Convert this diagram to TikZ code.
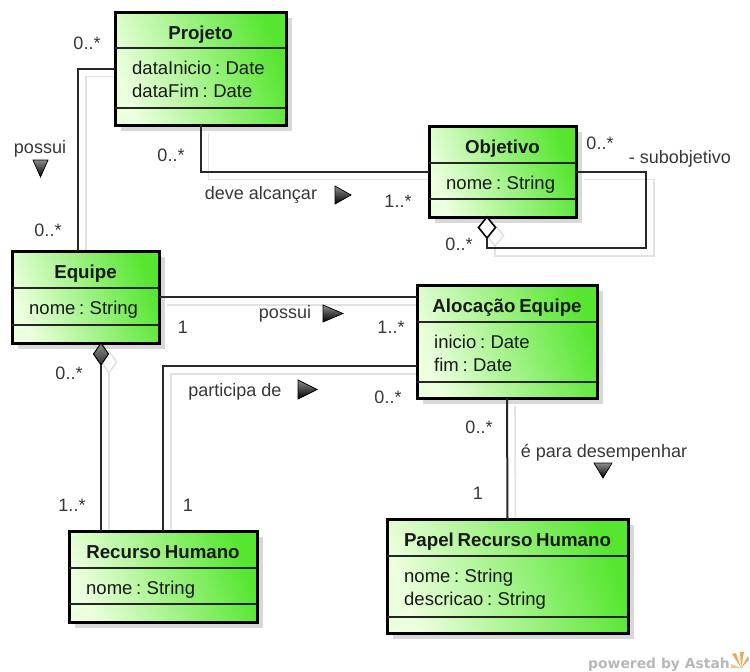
\documentclass[tikz,border=0pt]{standalone}
\usepackage{fontspec}
\setmainfont{Liberation Sans}
\newfontfamily\boxfont[WordSpace=0.72]{Liberation Sans}
\newfontfamily\markfont{DejaVu Sans}
\usetikzlibrary{shapes.geometric,calc,backgrounds}

\definecolor{boxlight}{RGB}{236,255,222}
\definecolor{boxgreen}{RGB}{86,230,48}
\definecolor{lineclr}{RGB}{40,40,40}
\definecolor{boxshadowclr}{RGB}{216,216,216}
\definecolor{lineshadow}{RGB}{226,226,226}
\definecolor{txtclr}{RGB}{25,25,25}
\definecolor{lblclr}{RGB}{55,55,55}
\definecolor{markclr}{RGB}{184,184,184}
\definecolor{iconclr}{RGB}{236,170,96}

\tikzset{
  x=1pt, y=-1pt,
  classbox/.style={draw=black, line width=3pt, inner sep=0pt, outer sep=0pt,
    left color=boxgreen, right color=boxlight, shading angle=290},
  divider/.style={draw=black!85, line width=1.5pt},
  titletext/.style={font=\boxfont\bfseries\fontsize{18.7}{22}\selectfont,
    text=txtclr, inner sep=0pt, anchor=base},
  attrtext/.style={font=\boxfont\fontsize{18.5}{22}\selectfont,
    text=txtclr, inner sep=0pt, anchor=base west},
  lbl/.style={font=\fontsize{18}{21}\selectfont, text=lblclr, inner sep=0pt, anchor=base},
  assoc/.style={draw=lineclr, line width=2pt},
  assocshadow/.style={draw=lineshadow, line width=1.6pt},
  dirmark/.style={draw=black, line width=0.7pt, line join=miter,
    top color=black!45, bottom color=black},
  filleddiamond/.style={diamond, draw=black, line width=1pt, inner sep=0pt, outer sep=0pt,
    minimum width=15pt, minimum height=22pt, top color=black!45, bottom color=black!80},
  hollowdiamond/.style={diamond, draw=black, line width=1.6pt, fill=white, inner sep=0pt,
    outer sep=0pt, minimum width=17pt, minimum height=21pt},
}

% #1 name, #2 north-west corner, #3 width, #4 height,
% #5 header depth, #6 attribute depth, #7 class name, #8 attribute list
\newcommand\umlclass[8]{%
  \node[classbox, minimum width=#3pt, minimum height=#4pt, anchor=north west] (#1) at (#2) {};
  \draw[divider] ([yshift=-#5pt]#1.north west) -- ([yshift=-#5pt]#1.north east);
  \draw[divider] ([yshift=-#6pt]#1.north west) -- ([yshift=-#6pt]#1.north east);
  \node[titletext] (#1-name) at ([yshift=-27pt]#1.north) {#7};
  \foreach \a [count=\i] in {#8} {
    \node[attrtext] (#1-attr\i) at ([xshift=17pt, yshift={-(#5+26+23*(\i-1))*1pt}]#1.north west) {\a};
  }%
}

\begin{document}
\begin{tikzpicture}
\useasboundingbox (0,0) rectangle (750,672);

% classes
\umlclass{proj}{115,12}{171}{113}{36}{96}{Projeto}{dataInicio : Date, dataFim : Date}
\umlclass{obj}{429,126}{147}{91}{37}{73}{Objetivo}{nome : String}
\umlclass{equipe}{12,251}{147}{92}{37}{74}{Equipe}{nome : String}
\umlclass{aloc}{417,285}{180}{113}{37}{97}{Alocação Equipe}{inicio : Date, fim : Date}
\umlclass{rec}{69,531}{188}{91}{37}{73}{Recurso Humano}{nome : String}
\umlclass{papel}{387,519}{241}{114}{37}{98}{Papel Recurso Humano}{nome : String, descricao : String}

% aggregation ends
\node[filleddiamond, anchor=north] (aggE) at ([xshift=15.5pt]equipe.south) {};
\node[hollowdiamond, anchor=north] (aggO) at ([xshift=-15.5pt]obj.south) {};
\coordinate (loopcorner) at (646,248);

% associations
\draw[assoc] (proj.west) -| ([xshift=-7.5pt]equipe.north);
\draw[assoc] (proj.south) |- (obj.west);
\draw[assoc] (obj.east) -| (loopcorner) -| (aggO.south);
\draw[assoc] (equipe.east) -- (equipe.east -| aloc.west);
\draw[assoc] ([yshift=-24.5pt]aloc.west) -| (rec.north);
\draw[assoc] (aggE.south) -- (aggE.south |- rec.north);
\draw[assoc] (aloc.south) -- (papel.north);

% drop shadows
\begin{pgfonlayer}{background}
  \fill[white] (0,0) rectangle (750,672);
  \foreach \b in {proj,obj,equipe,aloc,rec,papel} {
    \fill[boxshadowclr] ([shift={(6pt,-6pt)}]\b.north west) rectangle ([shift={(6pt,-6pt)}]\b.south east);
  }
  \begin{scope}[transform canvas={xshift=8pt,yshift=-8pt}]
    \draw[assocshadow] (proj.west) -| ([xshift=-7.5pt]equipe.north);
    \draw[assocshadow] (proj.south) |- (obj.west);
    \draw[assocshadow] (obj.east) -| (loopcorner) -| (aggO.south);
    \draw[assocshadow] (equipe.east) -- (equipe.east -| aloc.west);
    \draw[assocshadow] ([yshift=-24.5pt]aloc.west) -| (rec.north);
    \draw[assocshadow] (aggE.south) -- (aggE.south |- rec.north);
    \draw[assocshadow] (aloc.south) -- (papel.north);
    \draw[assocshadow] (aggE.north) -- (aggE.east) -- (aggE.south) -- (aggE.west) -- cycle;
    \draw[assocshadow] (aggO.north) -- (aggO.east) -- (aggO.south) -- (aggO.west) -- cycle;
  \end{scope}
\end{pgfonlayer}

% multiplicities and role names
\node[lbl] (m1) at (87,49) {0..*};
\node[lbl] (m2) at (48,236) {0..*};
\node[lbl] (m3) at (171,161) {0..*};
\node[lbl] (m4) at (398,207) {1..*};
\node[lbl] (m5) at (600,149) {0..*};
\node[lbl] (r1) at (680,163) {- subobjetivo};
\node[lbl] (m6) at (459,250) {0..*};
\node[lbl] (m7) at (183,333) {1};
\node[lbl] (m8) at (391,333) {1..*};
\node[lbl] (m9) at (388,403) {0..*};
\node[lbl] (m10) at (69,379) {0..*};
\node[lbl] (m11) at (72,511) {1..*};
\node[lbl] (m12) at (188,511) {1};
\node[lbl] (m13) at (479,433) {0..*};
\node[lbl] (m14) at (478,499) {1};

% association names with reading direction
\node[lbl] (n1) at (40,153) {possui};
\filldraw[dirmark] (33,160) -- (48,160) -- (40.5,177) -- cycle;
\node[lbl] (n2) at (261,199) {deve alcançar};
\filldraw[dirmark] (335,186) -- (351,195) -- (335,204) -- cycle;
\node[lbl] (n3) at (285,318) {possui};
\filldraw[dirmark] (323,305) -- (343,313.5) -- (323,322) -- cycle;
\node[lbl] (n4) at (235,396) {participa de};
\filldraw[dirmark] (298,380) -- (317,389.5) -- (298,399) -- cycle;
\node[lbl] (n5) at (604,457) {é para desempenhar};
\filldraw[dirmark] (594,463) -- (612,463) -- (603,478) -- cycle;

% footer
\node[font=\markfont\bfseries\fontsize{13.9}{16}\selectfont, text=markclr, inner sep=0pt, anchor=base]
  (mark) at (659,668) {powered by Astah};
\fill[iconclr] (741,668) -- (732,654) -- (736,653) -- cycle;
\fill[iconclr] (741,668) -- (740,652) -- (744,652) -- cycle;
\fill[iconclr] (741,668) -- (748,656) -- (749,660) -- cycle;
\fill[iconclr!70] (741,668) -- (731,664) -- (731,668) -- cycle;
\end{tikzpicture}
\end{document}
